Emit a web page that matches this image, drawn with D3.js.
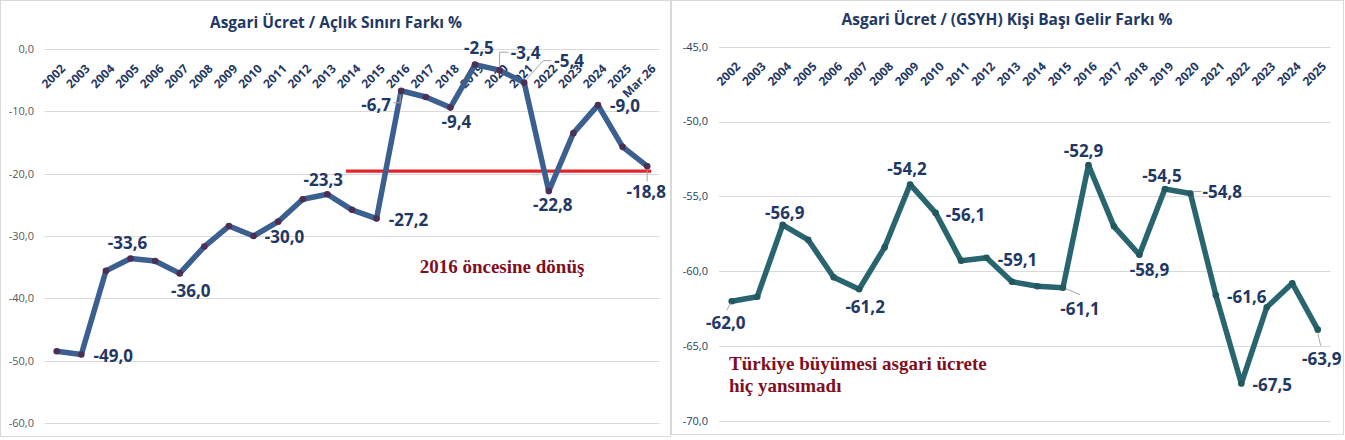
<!DOCTYPE html>
<html>
<head>
<meta charset="utf-8">
<script src="https://cdn.jsdelivr.net/npm/d3@7"></script>
<style>
  html, body { margin: 0; padding: 0; background: #fff; }
  svg { display: block; }
</style>
</head>
<body>
<script>
// ---- data ----
var yearsLeft = ["2002","2003","2004","2005","2006","2007","2008","2009","2010","2011","2012",
    "2013","2014","2015","2016","2017","2018","2019","2020","2021","2022","2023","2024","2025","Mar.26"];
var aclikFarki = [-48.5, -49.0, -35.6, -33.6, -34.0, -36.0, -31.7, -28.4, -30.0, -27.7, -24.1,
    -23.3, -25.8, -27.2, -6.7, -7.7, -9.4, -2.5, -3.4, -5.4, -22.8, -13.5, -9.0, -15.7, -18.8];
var ticksLeft = [0, -10, -20, -30, -40, -50, -60];
var esik = { from: "2014", to: "Mar.26", value: -19.6 };

var yearsRight = ["2002","2003","2004","2005","2006","2007","2008","2009","2010","2011","2012",
    "2013","2014","2015","2016","2017","2018","2019","2020","2021","2022","2023","2024","2025"];
var gelirFarki = [-62.0, -61.7, -56.9, -57.9, -60.4, -61.2, -58.4, -54.2, -56.1, -59.3, -59.1,
    -60.7, -61.0, -61.1, -52.9, -57.0, -58.9, -54.5, -54.8, -61.6, -67.5, -62.4, -60.8, -63.9];
var ticksRight = [-45, -50, -55, -60, -65, -70];

var fmt = d3.formatLocale({decimal: ",", thousands: ".", grouping: [3], currency: ["", ""], minus: "-"}).format(".1f");

var svg = d3.select("body").append("svg")
    .attr("width", 1345)
    .attr("height", 440);

// label placement: index -> [dx, dy] of label centre from the point, optional leader
var labelsLeft = [
    {i: 1, dx: 32, dy: 1}, {i: 3, dx: -3, dy: -16}, {i: 5, dx: 11, dy: 17},
    {i: 8, dx: 31, dy: 1}, {i: 11, dx: -4, dy: -14}, {i: 13, dx: 32, dy: 1},
    {i: 14, dx: -25, dy: 14, leader: [[-1, 4], [-1, 12], [-8, 12]]},
    {i: 16, dx: 6, dy: 14}, {i: 17, dx: 4, dy: -17},
    {i: 18, dx: 26, dy: -17, leader: [[0, -4], [0, -18], [9, -18]]},
    {i: 19, dx: 45, dy: -22, leader: [[2, -3], [19, -22], [27, -22]]},
    {i: 20, dx: 4, dy: 14}, {i: 22, dx: 27, dy: 1},
    {i: 24, dx: -1, dy: 26, leader: [[0, 4], [0, 15]]}
];
var labelsRight = [
    {i: 0, dx: -6, dy: 22, leader: [[-1, 2], [-5, 9]]},
    {i: 2, dx: 2, dy: -12}, {i: 5, dx: 6, dy: 18}, {i: 7, dx: -3, dy: -16},
    {i: 8, dx: 30, dy: 2}, {i: 10, dx: 31, dy: 2},
    {i: 13, dx: 17, dy: 21, leader: [[3, 1], [17, 7]]},
    {i: 14, dx: -5, dy: -14}, {i: 16, dx: 10, dy: 15}, {i: 17, dx: -3, dy: -13},
    {i: 18, dx: 32, dy: -2, leader: [[3, -2], [11, -2]]},
    {i: 19, dx: 31, dy: 2}, {i: 20, dx: 31, dy: 1},
    {i: 23, dx: 4, dy: 29, leader: [[0, 4], [3, 16]]}
];

function drawPanel(p) {
    var g = svg.append("g");

    // panel frame
    g.append("rect")
        .attr("x", p.frame[0] + 0.5).attr("y", 0.5)
        .attr("width", p.frame[1] - p.frame[0]).attr("height", p.frame[2])
        .attr("fill", "#fff").attr("stroke", "#D9D9D9");

    var x = d3.scalePoint().domain(p.cats).range(p.xRange).padding(0.5);
    var y = d3.scaleLinear().domain(p.yDomain).range(p.yRange);

    // gridlines + y labels
    g.selectAll(".grid").data(p.ticks).enter().append("line")
        .attr("x1", p.xRange[0]).attr("x2", p.xRange[1])
        .attr("y1", function(d){ return Math.round(y(d)) + 0.5; })
        .attr("y2", function(d){ return Math.round(y(d)) + 0.5; })
        .attr("stroke", "#D9D9D9").attr("stroke-width", 1);

    g.selectAll(".ytick").data(p.ticks).enter().append("text")
        .attr("x", p.yLabelX)
        .attr("y", function(d){ return y(d); })
        .attr("dy", "0.35em")
        .attr("text-anchor", "end")
        .attr("font-family", "'Open Sans', sans-serif")
        .attr("font-size", 11)
        .attr("fill", p.tickColor)
        .text(function(d){ return fmt(d); });

    // category labels under the top axis, rotated
    g.selectAll(".xtick").data(p.cats).enter().append("text")
        .attr("transform", function(d){
            return "translate(" + (x(d) + 9.4) + "," + (y(p.yDomain[1]) + 20.5) + ") rotate(-45)";
        })
        .attr("text-anchor", "end")
        .attr("font-family", "'Open Sans', sans-serif")
        .attr("font-weight", "bold")
        .attr("font-size", 12)
        .attr("fill", "#1F3864")
        .text(function(d){ return d; });

    // title
    g.append("text")
        .attr("x", p.title.x).attr("y", p.title.y)
        .attr("text-anchor", "middle")
        .attr("font-family", "'Open Sans', sans-serif")
        .attr("font-weight", "bold")
        .attr("font-size", 16)
        .attr("textLength", p.title.w)
        .attr("lengthAdjust", "spacingAndGlyphs")
        .attr("fill", "#1F3864")
        .text(p.title.text);

    // extra red line (left only)
    if (p.hline) {
        g.append("line")
            .attr("x1", x(p.hline.from) - 6).attr("x2", x(p.hline.to) + 4)
            .attr("y1", y(p.hline.value)).attr("y2", y(p.hline.value))
            .attr("stroke", "#E3242B").attr("stroke-width", 3.2);
    }

    var pts = p.values.map(function(v, i){ return [x(p.cats[i]), y(v)]; });

    g.append("path")
        .datum(pts)
        .attr("d", d3.line())
        .attr("fill", "none")
        .attr("stroke", p.lineColor)
        .attr("stroke-width", 5.5)
        .attr("stroke-linejoin", "round");

    g.selectAll(".dot").data(pts).enter().append("circle")
        .attr("cx", function(d){ return d[0]; })
        .attr("cy", function(d){ return d[1]; })
        .attr("r", 3.3)
        .attr("fill", p.markerColor);

    // leaders
    p.labels.filter(function(l){ return l.leader; }).forEach(function(l){
        var pt = pts[l.i];
        g.append("path")
            .attr("d", d3.line()(l.leader.map(function(o){ return [pt[0] + o[0], pt[1] + o[1]]; })))
            .attr("fill", "none")
            .attr("stroke", "#A6A6A6")
            .attr("stroke-width", 1);
    });

    // data labels
    g.selectAll(".lbl").data(p.labels).enter().append("text")
        .attr("x", function(l){ return pts[l.i][0] + l.dx; })
        .attr("y", function(l){ return pts[l.i][1] + l.dy; })
        .attr("dy", "0.36em")
        .attr("text-anchor", "middle")
        .attr("font-family", "'Open Sans', sans-serif")
        .attr("font-weight", "bold")
        .attr("font-size", 17)
        .attr("fill", "#1F3864")
        .text(function(l){ return fmt(p.values[l.i]); });

    // annotation
    var note = g.append("text")
        .attr("x", p.note.x).attr("y", p.note.y)
        .attr("text-anchor", p.note.anchor)
        .attr("font-family", "'Liberation Serif', 'Times New Roman', serif")
        .attr("font-weight", "bold")
        .attr("font-size", 19)
        .attr("fill", "#7F0F1E");
    p.note.lines.forEach(function(t, k){
        note.append("tspan").attr("x", p.note.x).attr("dy", k === 0 ? 0 : 22).text(t);
    });
}

drawPanel({
    frame: [0, 670, 436],
    cats: yearsLeft, values: aclikFarki, ticks: ticksLeft,
    xRange: [44.4, 659.5], yDomain: [-60, 0], yRange: [423, 49],
    yLabelX: 34, tickColor: "#595959",
    lineColor: "#3B5F8F", markerColor: "#4B2F55",
    title: {text: "Asgari Ücret / Açlık Sınırı Farkı %", x: 336, y: 28, w: 252},
    hline: esik,
    labels: labelsLeft,
    note: {lines: ["2016 öncesine dönüş"], x: 502, y: 273, anchor: "middle"}
});

drawPanel({
    frame: [671, 1343, 434],
    cats: yearsRight, values: gelirFarki, ticks: ticksRight,
    xRange: [719, 1330.5], yDomain: [-70, -45], yRange: [421, 46.7],
    yLabelX: 708, tickColor: "#243F60",
    lineColor: "#28656F", markerColor: "#22585F",
    title: {text: "Asgari Ücret / (GSYH) Kişi Başı Gelir Farkı %", x: 1007, y: 25, w: 331},
    labels: labelsRight,
    note: {lines: ["Türkiye büyümesi asgari ücrete", "hiç yansımadı"], x: 729, y: 370, anchor: "start"}
});
</script>
</body>
</html>
